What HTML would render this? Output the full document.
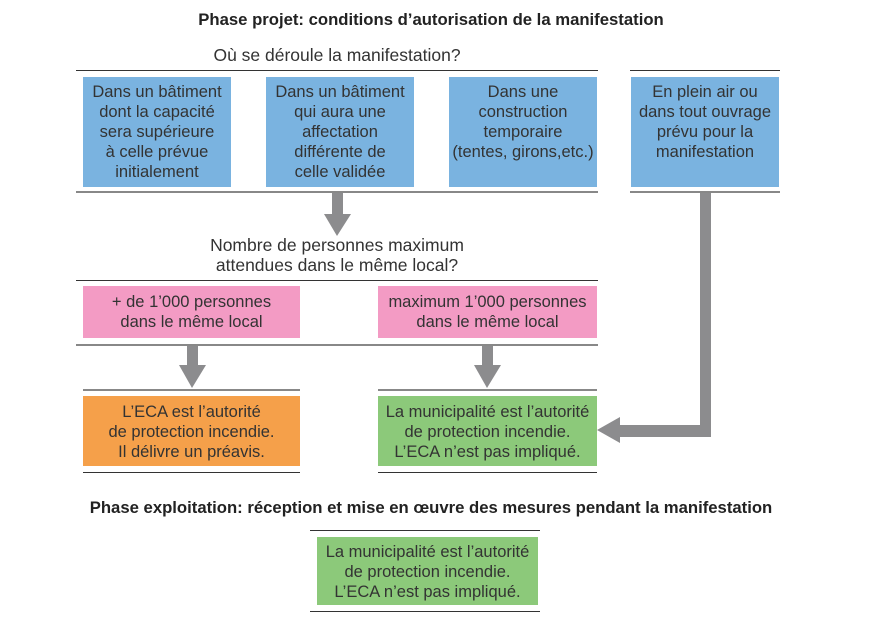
<!DOCTYPE html>
<html><head><meta charset="utf-8"><style>
body{margin:0;width:882px;height:627px;background:#fff;position:relative;overflow:hidden;font-family:"Liberation Sans",sans-serif;color:#333}
.t{position:absolute;white-space:nowrap;text-align:center}
.b{position:absolute;display:flex;align-items:flex-start;justify-content:center;text-align:center;font-size:16.5px;line-height:20px;color:#333;white-space:nowrap}
.l{position:absolute;background:#333;height:1px}
.g{position:absolute;background:#888;height:2px}
</style></head><body>
<div class="t" style="left:0;width:862px;top:10px;font-size:16.7px;font-weight:bold;color:#222">Phase projet: conditions d’autorisation de la manifestation</div>
<div class="t" style="left:76px;width:522px;top:45px;font-size:17.5px">Où se déroule la manifestation?</div>
<div class="l" style="left:76px;width:522px;top:70px"></div>
<div class="l" style="left:630px;width:150px;top:70px"></div>
<div class="b" style="left:83px;top:77px;width:148px;height:110px;background:#7ab3e0;padding-top:5px;box-sizing:border-box">Dans un bâtiment<br>dont la capacité<br>sera supérieure<br>à celle prévue<br>initialement</div>
<div class="b" style="left:266px;top:77px;width:148px;height:110px;background:#7ab3e0;padding-top:5px;box-sizing:border-box">Dans un bâtiment<br>qui aura une<br>affectation<br>différente de<br>celle validée</div>
<div class="b" style="left:449px;top:77px;width:148px;height:110px;background:#7ab3e0;padding-top:5px;box-sizing:border-box">Dans une<br>construction<br>temporaire<br>(tentes, girons,etc.)</div>
<div class="b" style="left:631px;top:77px;width:148px;height:110px;background:#7ab3e0;padding-top:5px;box-sizing:border-box">En plein air ou<br>dans tout ouvrage<br>prévu pour la<br>manifestation</div>
<div class="g" style="left:76px;width:522px;top:191px"></div>
<div class="g" style="left:630px;width:150px;top:191px"></div>
<div class="t" style="left:76px;width:522px;top:235px;font-size:17.5px;line-height:20px">Nombre de personnes maximum<br>attendues dans le même local?</div>
<div class="l" style="left:76px;width:522px;top:280px"></div>
<div class="b" style="left:83px;top:286px;width:217px;height:52px;background:#f39bc4;padding-top:6px;box-sizing:border-box">+ de 1’000 personnes<br>dans le même local</div>
<div class="b" style="left:378px;top:286px;width:219px;height:52px;background:#f39bc4;padding-top:6px;box-sizing:border-box">maximum 1’000 personnes<br>dans le même local</div>
<div class="g" style="left:76px;width:522px;top:344px"></div>
<div class="g" style="left:83px;width:217px;top:389px"></div>
<div class="g" style="left:378px;width:219px;top:389px"></div>
<div class="b" style="left:83px;top:396px;width:217px;height:70px;background:#f5a04a;padding-top:6px;box-sizing:border-box">L’ECA est l’autorité<br>de protection incendie.<br>Il délivre un préavis.</div>
<div class="b" style="left:378px;top:396px;width:219px;height:70px;background:#8cc97a;padding-top:6px;box-sizing:border-box">La municipalité est l’autorité<br>de protection incendie.<br>L’ECA n’est pas impliqué.</div>
<div class="l" style="left:83px;width:217px;top:472px"></div>
<div class="l" style="left:378px;width:219px;top:472px"></div>
<svg style="position:absolute;left:0;top:0" width="882" height="627">
<g fill="#8c8c8e">
<rect x="332" y="193" width="11" height="22"/><polygon points="324,214 351,214 337,236"/>
<rect x="187" y="346" width="11" height="20"/><polygon points="179,365 206,365 192,388"/>
<rect x="482" y="346" width="11" height="20"/><polygon points="474,365 501,365 487,388"/>
<polygon points="700,193 711,193 711,437 620,437 620,443 597,430 620,417 620,425 700,425"/>
</g></svg>
<div class="t" style="left:0;width:862px;top:498px;font-size:16.7px;font-weight:bold;color:#222">Phase exploitation: réception et mise en œuvre des mesures pendant la manifestation</div>
<div class="l" style="left:310px;width:230px;top:530px"></div>
<div class="b" style="left:317px;top:537px;width:221px;height:68px;background:#8cc97a;padding-top:5px;box-sizing:border-box">La municipalité est l’autorité<br>de protection incendie.<br>L’ECA n’est pas impliqué.</div>
<div class="l" style="left:310px;width:230px;top:611px"></div>
</body></html>
